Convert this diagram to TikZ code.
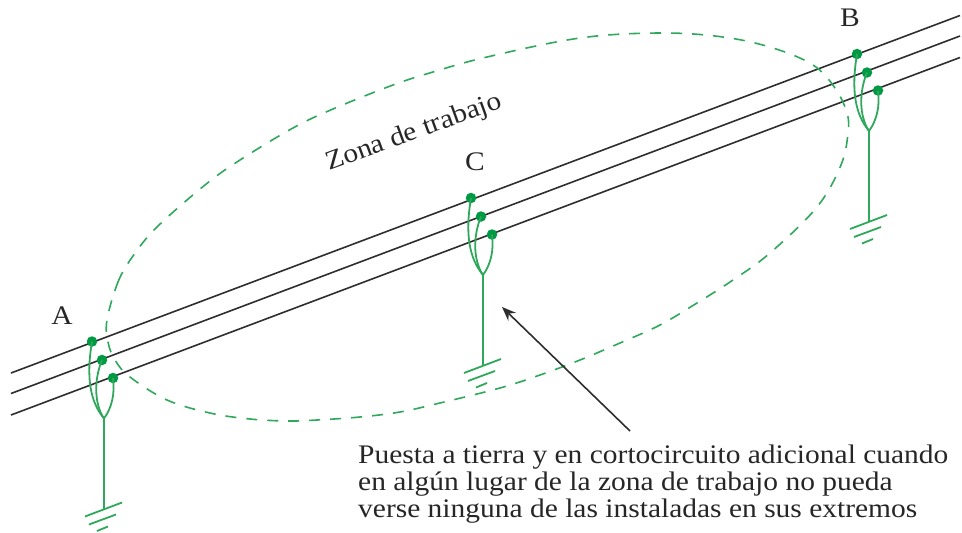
\documentclass[tikz,border=0pt]{standalone}
\usepackage{fontspec}
\setmainfont[FakeStretch=1.1]{Liberation Serif}
\usetikzlibrary{arrows.meta}
\definecolor{dotgreen}{HTML}{009A44}
\definecolor{linegreen}{HTML}{2FA85C}
\definecolor{wire}{HTML}{2E2E2E}
\tikzset{
  wireline/.style={draw=wire,line width=1.6pt},
  clampline/.style={draw=linegreen,line width=1.8pt},
  zoneline/.style={draw=linegreen,line width=1.6pt,dash pattern=on 11pt off 10pt},
  clampdot/.style={circle,fill=dotgreen,inner sep=0pt,minimum size=10.5pt},
  lab/.style={font=\fontsize{26.8}{26.6}\selectfont,text=black!85,inner sep=0pt},
}
\newcommand{\clampset}[3]{%
  \begin{scope}[shift={(#2,#3)}]
    \coordinate (#1j) at (12,77);
    \coordinate (#1g) at (12,168);
    \coordinate (#1a1) at (-7,175);\coordinate (#1a2) at (30,161);
    \coordinate (#1b1) at (-3,183);\coordinate (#1b2) at (24,173);
    \coordinate (#1c1) at (5,189.5);\coordinate (#1c2) at (16,185);
    \node[clampdot] (#1d1) at (0,0) {};
    \node[clampdot] (#1d2) at (10,18.5) {};
    \node[clampdot] (#1d3) at (21,36.5) {};
    \draw[clampline] (#1d1.center) .. controls (-6,36) and (-2,60) .. (#1j);
    \draw[clampline] (#1d2.center) .. controls (2,38) and (2,62) .. (#1j);
    \draw[clampline] (#1d3.center) .. controls (23,52) and (20,66) .. (#1j);
    \draw[clampline] (#1j) -- (#1g);
    \draw[clampline] (#1a1) -- (#1a2);
    \draw[clampline] (#1b1) -- (#1b2);
    \draw[clampline] (#1c1) -- (#1c2);
  \end{scope}}
\begin{document}
\begin{tikzpicture}[x=1pt,y=-1pt]
\useasboundingbox (0,0) rectangle (962,533);
\coordinate (l1s) at (11,373);\coordinate (l1e) at (960,15.5);
\coordinate (l2s) at (11,393.5);\coordinate (l2e) at (960,36);
\coordinate (l3s) at (11,415);\coordinate (l3e) at (960,57.5);
\draw[wireline] (l1s) -- (l1e);
\draw[wireline] (l2s) -- (l2e);
\draw[wireline] (l3s) -- (l3e);
\draw[zoneline] plot[smooth cycle,tension=0.6] coordinates {
 (107,320) (118,282) (133,256) (157,227) (205,185) (240,160) (293,128) (333,109) (393,85) (433,72) (487,57) (580,38) (660,33) (723,37) (773,48) (813,65) (835,88) (847,113) (848,133) (841,165) (817,207) (770,253) (733,280) (697,303) (660,325) (620,343) (580,360) (540,375) (500,388) (440,403) (400,412) (360,417) (317,420) (287,421) (250,419) (210,413) (167,400) (130,377) (115,360) (108,342)};
\clampset{A}{92}{341.5}
\clampset{C}{471}{198}
\clampset{B}{857}{54}
\node[lab] (la) at (62,316) {A};
\node[lab] (lb) at (850,18) {B};
\node[lab] (lc) at (475,162) {C};
\node[lab,rotate=20] (zona) at (414,133) {Zona de trabajo};
\node[lab,anchor=north west,align=left] (note) at (358,445) {Puesta a tierra y en cortocircuito adicional cuando\\en algún lugar de la zona de trabajo no pueda\\verse ninguna de las instaladas en sus extremos};
\coordinate (arrowtail) at (630,431);
\coordinate (arrowhead) at (502,307);
\draw[draw=wire,line width=1.6pt,-{Stealth[length=14pt,width=11pt]}] (arrowtail) -- (arrowhead);
\end{tikzpicture}
\end{document}
